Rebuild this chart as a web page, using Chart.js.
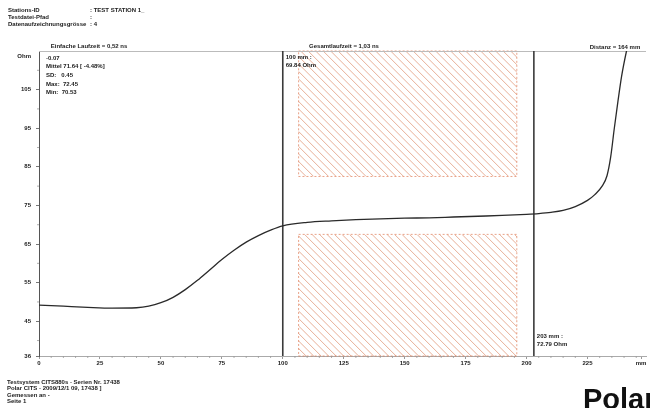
<!DOCTYPE html>
<html>
<head>
<meta charset="utf-8">
<script src="https://cdn.jsdelivr.net/npm/chart.js@4.4.1/dist/chart.umd.min.js"></script>
<style>
html,body{margin:0;padding:0;background:#fff;}
#wrap{width:650px;height:408px;position:relative;}
</style>
</head>
<body>
<div id="wrap"><canvas id="c" width="650" height="408"></canvas></div>
<script>
// ---- data ----
const distanceMm = [0,10,20,30,40,45,50,55,60,65,70,75,80,85,90,95,100,110,120,130,140,150,160,170,180,190,200,205,210,215,220,225,228,231,233,234.5,236,237.5,239,241,242.5];
const impedanceOhm = [49.2,48.9,48.6,48.4,48.5,48.9,49.8,51.2,53.2,55.6,58.3,61.0,63.4,65.5,67.2,68.6,69.7,70.6,71.0,71.3,71.5,71.7,71.8,72.0,72.2,72.4,72.7,72.9,73.2,73.7,74.7,76.3,77.8,80.0,82.7,87.5,95.0,102.0,108.5,115.0,119.0];
const cursorMm = [100, 203];
const cursorLabels = [["100 mm :","69.84 Ohm"],["203 mm :","72.79 Ohm"]];
const limitBoxX = [106.5, 196];
const limitUpper = [82.5, 115];
const limitLower = [36, 67.5];
const xTickValues = [0,25,50,75,100,125,150,175,200,225,247];
const xTickLabels = ["0","25","50","75","100","125","150","175","200","225","mm"];
const yTickValues = [36,45,55,65,75,85,95,105];
const yTickLabels = ["36","45","55","65","75","85","95","105"];
const headerLines = [["Stations-ID",": TEST STATION 1_"],["Testdatei-Pfad",":"],["Datenaufzeichnungsgrösse",": 4"]];
const statsLines = ["-0.07","Mittel 71.64 [ -4.48%]","SD:   0.45","Max:  72.45","Min:  70.53"];
const footerLines = ["Testsystem CITS880s - Serien Nr. 17438","Polar CITS - 2009/12/1 09, 17438 ]","Gemessen an -","Seite 1"];
const topNotes = ["Einfache Laufzeit = 0,52 ns","Gesamtlaufzeit = 1,03 ns","Distanz = 164 mm"];

const FONT = "Liberation Sans, Arial, sans-serif";

const overlay = {
  id: 'overlay',
  beforeDatasetsDraw(chart){
    const {ctx, chartArea:a, scales:{x,y}} = chart;
    // hatched limit boxes
    [limitUpper, limitLower].forEach(r=>{
      const x0 = x.getPixelForValue(limitBoxX[0]), x1 = x.getPixelForValue(limitBoxX[1]);
      const y0 = y.getPixelForValue(r[1]), y1 = y.getPixelForValue(r[0]);
      ctx.save();
      ctx.beginPath(); ctx.rect(x0,y0,x1-x0,y1-y0); ctx.clip();
      ctx.strokeStyle = 'rgba(214,120,80,0.75)'; ctx.lineWidth = 0.8;
      ctx.beginPath();
      for(let s = x0 - (y1-y0); s < x1; s += 7.5){
        ctx.moveTo(s, y0); ctx.lineTo(s + (y1-y0), y1);
      }
      ctx.stroke();
      ctx.restore();
      ctx.save();
      ctx.strokeStyle = 'rgba(220,110,70,0.8)'; ctx.lineWidth = 0.8; ctx.setLineDash([2,2]);
      ctx.strokeRect(x0,y0,x1-x0,y1-y0);
      ctx.restore();
    });
    // top line
    ctx.save();
    ctx.strokeStyle = '#bbb'; ctx.lineWidth = 1;
    ctx.beginPath(); ctx.moveTo(a.left, a.top+0.5); ctx.lineTo(a.right, a.top+0.5); ctx.stroke();
    // minor ticks
    ctx.strokeStyle = '#999'; ctx.lineWidth = 0.8;
    ctx.beginPath();
    for(let v=40; v<115; v+=5){ if(yTickValues.includes(v)) continue; const py=y.getPixelForValue(v); ctx.moveTo(a.left-2,py); ctx.lineTo(a.left,py); }
    for(let v=5; v<249; v+=5){ if(v%25===0) continue; const px=x.getPixelForValue(v); ctx.moveTo(px,a.bottom); ctx.lineTo(px,a.bottom+2); }
    ctx.stroke();
    ctx.restore();
  },
  afterDraw(chart){
    const {ctx, chartArea:a, scales:{x,y}} = chart;
    ctx.save();
    ctx.fillStyle = '#222';
    ctx.textBaseline = 'middle';
    ctx.font = 'bold 6px ' + FONT;
    headerLines.forEach((l,i)=>{ ctx.textAlign='left'; ctx.fillText(l[0], 8, 10+i*7); ctx.fillText(l[1], 90, 10+i*7); });
    ctx.textAlign='center';
    ctx.fillText(topNotes[0], 89, 46);
    ctx.fillText(topNotes[1], 344, 46);
    ctx.fillText(topNotes[2], 615, 47);
    ctx.textAlign='right';
    ctx.fillText('Ohm', 31, 56);
    ctx.textAlign='left';
    statsLines.forEach((t,i)=>{ ctx.fillText(t, 46, 58 + i*8.7); });
    cursorMm.forEach((m,i)=>{
      const px = x.getPixelForValue(m)+3;
      const py = i===0 ? a.top+6 : a.bottom-20;
      ctx.fillText(cursorLabels[i][0], px, py);
      ctx.fillText(cursorLabels[i][1], px, py+8);
    });
    footerLines.forEach((t,i)=>{ ctx.fillText(t, 7, 382 + i*6.5); });
    ctx.font = 'bold 29px ' + FONT;
    ctx.textBaseline = 'alphabetic';
    ctx.fillStyle = '#111';
    ctx.fillText('Polar', 583, 409);
    ctx.restore();
  }
};

const cursorSets = cursorMm.map(m=>({
  data:[{x:m,y:36},{x:m,y:115}],
  borderColor:'#3a3a3a', borderWidth:1.6, pointRadius:0, tension:0
}));

new Chart(document.getElementById('c'), {
  type:'line',
  data:{
    datasets:[
      {data: distanceMm.map((d,i)=>({x:d,y:impedanceOhm[i]})), borderColor:'#2a2a2a', borderWidth:1.3, pointRadius:0, cubicInterpolationMode:'monotone'},
      ...cursorSets
    ]
  },
  options:{
    responsive:false, animation:false,
    layout:{padding:{top:51,right:4,bottom:38,left:0}},
    plugins:{legend:{display:false}, tooltip:{enabled:false}},
    scales:{
      x:{type:'linear', min:0, max:249,
        afterBuildTicks(s){ s.ticks = xTickValues.map(v=>({value:v})); },
        afterFit(s){ s.height = 14; },
        ticks:{autoSkip:false, maxRotation:0, padding:1, color:'#222', font:{size:6, weight:'bold', family:FONT},
          callback:(v)=>{ const i=xTickValues.indexOf(v); return i>=0?xTickLabels[i]:''; }},
        grid:{drawOnChartArea:false, drawTicks:true, tickLength:3, color:'#999'},
        border:{color:'#aaa', width:1}
      },
      y:{type:'linear', min:36, max:115,
        afterBuildTicks(s){ s.ticks = yTickValues.map(v=>({value:v})); },
        afterFit(s){ s.width = 39; },
        ticks:{autoSkip:false, padding:5, color:'#222', font:{size:6, weight:'bold', family:FONT},
          callback:(v)=>{ const i=yTickValues.indexOf(v); return i>=0?yTickLabels[i]:''; }},
        grid:{drawOnChartArea:false, drawTicks:true, tickLength:3, color:'#777'},
        border:{color:'#555', width:1}
      }
    }
  },
  plugins:[overlay]
});
</script>
</body>
</html>
